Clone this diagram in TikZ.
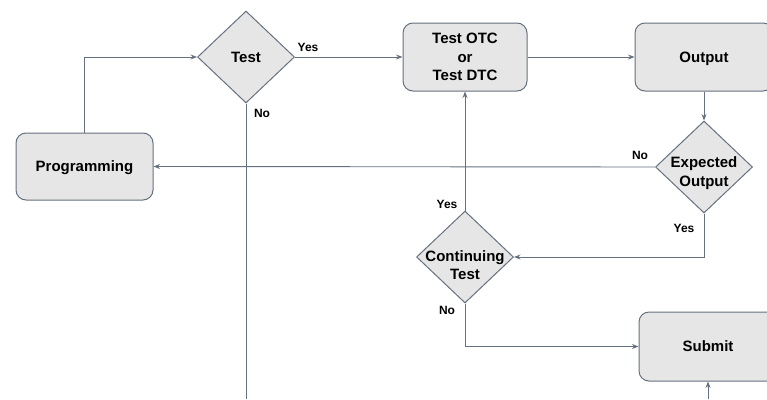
\documentclass[tikz,border=0pt]{standalone}
\usepackage{fontspec}
\setmainfont{Liberation Sans}
\usetikzlibrary{shapes.geometric,arrows.meta}
\definecolor{edge}{HTML}{66717F}
\definecolor{boxfill}{HTML}{E6E6E6}
\begin{document}
\begin{tikzpicture}[x=1pt,y=-1pt,
  box/.style={draw=edge,fill=boxfill,line width=1pt,rounded corners=10pt,inner sep=0pt,
    font=\fontsize{15}{18.5}\selectfont\bfseries,align=center},
  oneline/.style={text depth=0pt},
  dia/.style={draw=edge,fill=boxfill,line width=1pt,diamond,inner sep=0pt,minimum width=97pt,minimum height=92pt},
  dtext/.style={font=\fontsize{15}{18.5}\selectfont\bfseries,align=center,inner sep=0pt},
  lbl/.style={font=\fontsize{12}{14}\selectfont\bfseries,inner sep=0pt},
  conn/.style={draw=edge,line width=0.9pt,-{Stealth[length=6.5pt,width=5pt]}},
  plain/.style={draw=edge,line width=0.9pt}]
\useasboundingbox (0,0) rectangle (767,399);
\clip (0,0) rectangle (767,399);
\node[box,oneline,minimum width=137pt,minimum height=67pt] (prog) at (84.5,166.5) {Programming};
\node[dia] (test) at (246,57) {};
\node[dtext,text depth=0pt] (testtxt) at (246,57) {Test};
\node[box,minimum width=124pt,minimum height=68pt] (otc) at (465,57) {Test OTC\\or\\Test DTC};
\node[box,oneline,minimum width=138pt,minimum height=68pt] (out) at (704,57) {Output};
\node[dia] (exp) at (704,167) {};
\node[dtext] (exptxt) at (704,173) {Expected\\Output};
\node[dia] (cont) at (465,257) {};
\node[dtext] (conttxt) at (465,265) {Continuing\\Test};
\node[box,oneline,minimum width=138pt,minimum height=69pt] (sub) at (708,346.5) {Submit};
\coordinate (testend) at (246,399);
\coordinate (subin) at (708,399);
% connectors
\draw[conn] (prog.north) |- (test.west);
\draw[conn] (test.east) -- (otc.west);
\draw[plain] (test.south) -- (testend);
\draw[conn] (otc.east) -- (out.west);
\draw[conn] (out.south) -- (exp.north);
\draw[conn] (exp.west) -- (prog.east);
\draw[conn] (exp.south) |- (cont.east);
\draw[conn] (cont.north) -- (otc.south);
\draw[conn] (cont.south) |- (sub.west);
\draw[conn] (subin) -- (sub.south);
% labels
\node[lbl] (l1) at (308,47) {Yes};
\node[lbl] (l2) at (262,113) {No};
\node[lbl] (l3) at (640,155) {No};
\node[lbl] (l4) at (684,228) {Yes};
\node[lbl] (l5) at (447,204) {Yes};
\node[lbl] (l6) at (447,310) {No};
\end{tikzpicture}
\end{document}
